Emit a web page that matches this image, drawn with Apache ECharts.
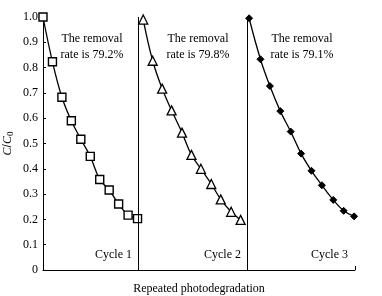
<!DOCTYPE html>
<html>
<head>
<meta charset="utf-8">
<script src="https://cdn.jsdelivr.net/npm/echarts@6/dist/echarts.min.js"></script>
<style>
html,body{margin:0;padding:0;background:#fff;}
#chart{width:382px;height:296px;}
</style>
</head>
<body>
<div id="chart"></div>
<script>
// C/C0, 11 samples per cycle
var cycle1X = [0, 1, 2, 3, 4, 5, 6, 7, 8, 9, 10];
var cycle1Y = [1.0, 0.823, 0.683, 0.590, 0.517, 0.449, 0.358, 0.316, 0.261, 0.217, 0.203];
var cycle2X = [10.6, 11.6, 12.6, 13.6, 14.7, 15.7, 16.7, 17.8, 18.8, 19.9, 20.9];
var cycle2Y = [0.99, 0.827, 0.717, 0.631, 0.543, 0.455, 0.400, 0.340, 0.279, 0.230, 0.198];
var cycle3X = [21.8, 23.0, 24.0, 25.1, 26.2, 27.3, 28.4, 29.5, 30.7, 31.8, 32.9];
var cycle3Y = [0.995, 0.833, 0.727, 0.628, 0.547, 0.460, 0.392, 0.335, 0.277, 0.234, 0.212];
var dividers = [10.05, 21.63];   // vertical lines between cycles
var cycleNames = ['Cycle 1', 'Cycle 2', 'Cycle 3'];
var removalRates = ['79.2%', '79.8%', '79.1%'];

function pairs(xs, ys) {
    return xs.map(function (x, i) { return [x, ys[i]]; });
}

var serif = '"Liberation Serif", "DejaVu Serif", serif';
var myChart = echarts.init(document.getElementById('chart'));

// texts at fixed spots, like in the figure
var texts = [];
var rateX = [92, 198, 302];
var cycleRight = [132, 241, 348];
for (var k = 0; k < 3; k++) {
    texts.push({
        type: 'text', x: rateX[k], y: 31,
        style: { text: 'The removal\nrate is ' + removalRates[k], font: '12px ' + serif,
                 fill: '#000', align: 'center', lineHeight: 16 }
    });
    texts.push({
        type: 'text', x: cycleRight[k], y: 249,
        style: { text: cycleNames[k], font: '12px ' + serif, fill: '#000', align: 'right' }
    });
}

var option = {
    animation: false,
    grid: { left: 43, right: 27, top: 17, bottom: 26, outerBoundsMode: 'none', containLabel: false },
    xAxis: {
        type: 'value', min: 0, max: 33, interval: 33,
        name: 'Repeated photodegradation', nameLocation: 'middle', nameGap: 13,
        nameTextStyle: { fontFamily: serif, fontSize: 12, color: '#000' },
        axisLine: { lineStyle: { color: '#000', width: 1 } },
        axisTick: { show: true, inside: true, length: 4, lineStyle: { color: '#000' } },
        axisLabel: { show: false },
        splitLine: { show: false }
    },
    yAxis: {
        type: 'value', min: 0, max: 1, interval: 0.1,
        name: '{i|C}/{i|C}{s|0}', nameLocation: 'middle', nameGap: 28, nameMoveOverlap: false,
        nameTextStyle: {
            rich: {
                i: { fontFamily: serif, fontStyle: 'italic', fontSize: 12, color: '#000' },
                s: { fontFamily: serif, fontSize: 9, color: '#000', padding: [5, 0, 0, 0] }
            }
        },
        axisLine: { show: true, lineStyle: { color: '#000', width: 1 } },
        axisTick: { show: true, inside: true, length: 3, lineStyle: { color: '#000' } },
        axisLabel: {
            fontFamily: serif, fontSize: 12, color: '#000', margin: 5,
            formatter: function (v) { return v === 0 ? '0' : v.toFixed(1); }
        },
        splitLine: { show: false }
    },
    series: [{
        type: 'line', data: pairs(cycle1X, cycle1Y), smooth: 0.4,
        symbol: 'rect', symbolSize: 8, clip: false,
        lineStyle: { color: '#000', width: 1.3 },
        itemStyle: { color: '#fff', borderColor: '#000', borderWidth: 1.4 },
        markLine: {
            silent: true, symbol: 'none', label: { show: false },
            lineStyle: { color: '#000', width: 1, type: 'solid' },
            data: dividers.map(function (d) { return { xAxis: d }; })
        }
    }, {
        type: 'line', data: pairs(cycle2X, cycle2Y), smooth: 0.4,
        symbol: 'triangle', symbolSize: 9, clip: false,
        lineStyle: { color: '#000', width: 1.3 },
        itemStyle: { color: '#fff', borderColor: '#000', borderWidth: 1.3 }
    }, {
        type: 'line', data: pairs(cycle3X, cycle3Y), smooth: 0.4,
        symbol: 'diamond', symbolSize: 7, clip: false,
        lineStyle: { color: '#000', width: 1.3 },
        itemStyle: { color: '#000', borderColor: '#000', borderWidth: 1 }
    }],
    graphic: texts
};
myChart.setOption(option);
</script>
</body>
</html>
